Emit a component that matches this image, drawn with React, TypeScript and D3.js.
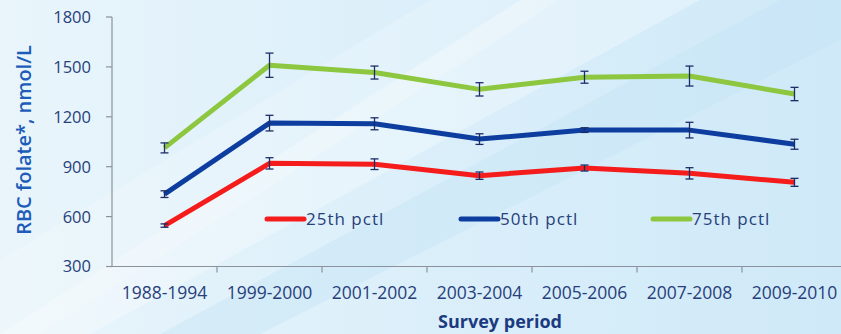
import React from "react";
import * as d3 from "d3";

const periods = ["1988-1994", "1999-2000", "2001-2002", "2003-2004", "2005-2006", "2007-2008", "2009-2010"];
const p25 = [546, 920, 915, 846, 892, 860, 806];
const p25Err = [10, 34, 32, 22, 18, 34, 24];
const p50 = [735, 1162, 1158, 1066, 1120, 1120, 1035];
const p50Err = [20, 47, 36, 32, 14, 47, 30];
const p75 = [1013, 1510, 1466, 1365, 1438, 1445, 1337];
const p75Err = [30, 73, 39, 40, 36, 60, 40];
const yTicks = [300, 600, 900, 1200, 1500, 1800];

const seriesNames = ["25th pctl", "50th pctl", "75th pctl"];
const seriesColors = ["#f51c1c", "#0d3d9f", "#8dc63f"];

const W = 841;
const H = 334;
const left = 112;
const bandW = 105;
const top = 17;
const bottom = 266.5;

export default function App() {
  const x = d3
    .scaleBand<string>()
    .domain(periods)
    .range([left, left + bandW * periods.length]);
  const y = d3.scaleLinear().domain([300, 1800]).range([bottom, top]);
  const line = d3
    .line<number>()
    .x((_, i) => (x(periods[i]) as number) + x.bandwidth() / 2)
    .y((v) => y(v));

  const series = [
    { vals: p25, err: p25Err },
    { vals: p50, err: p50Err },
    { vals: p75, err: p75Err },
  ];
  const legendX = [267, 461, 653];
  const legendY = 219;
  const font = "'Open Sans', sans-serif";
  const textColor = "#27407a";

  return (
    <svg width={W} height={H} style={{ position: "absolute", left: 0, top: 0 }}>
      <defs>
        <linearGradient id="bg" x1="0" y1="0" x2="1" y2="0">
          <stop offset="0" stopColor="#e9f5fb" />
          <stop offset="0.5" stopColor="#dbeffa" />
          <stop offset="1" stopColor="#cfe9f8" />
        </linearGradient>
      </defs>
      <rect width={W} height={H} fill="url(#bg)" />
      <polygon points="0,334 90,334 700,0 520,0" fill="#ffffff" opacity={0.3} />
      <polygon points="0,260 0,334 40,334 560,0 430,0" fill="#ffffff" opacity={0.2} />
      <polygon points="160,334 260,334 841,40 841,0 780,0" fill="#c3e4f6" opacity={0.4} />

      {/* axes */}
      <g stroke="#8c929c" strokeWidth={1.2}>
        <line x1={left} x2={left} y1={top} y2={bottom} />
        <line x1={left} x2={W} y1={bottom} y2={bottom} />
        {yTicks.map((t) => (
          <line key={t} x1={left - 6} x2={left} y1={y(t)} y2={y(t)} />
        ))}
        {periods.map((p, i) =>
          i === 0 ? null : (
            <line key={p} x1={x(p)} x2={x(p)} y1={bottom} y2={bottom + 6} />
          )
        )}
      </g>
      {yTicks.map((t) => (
        <text
          key={t}
          x={91}
          y={y(t)}
          dy="0.36em"
          textAnchor="end"
          fontFamily={font}
          fontSize={16.5}
          fill={textColor}
        >
          {t}
        </text>
      ))}
      {periods.map((p) => (
        <text
          key={p}
          x={(x(p) as number) + x.bandwidth() / 2}
          y={299}
          textAnchor="middle"
          fontFamily={font}
          fontSize={17.5}
          fill={textColor}
        >
          {p}
        </text>
      ))}
      <text
        x={500}
        y={328}
        textAnchor="middle"
        fontFamily={font}
        fontSize={18}
        fontWeight={700}
        fill="#1b3a80"
      >
        Survey period
      </text>
      <text
        transform={`translate(31,140) rotate(-90)`}
        textAnchor="middle"
        fontFamily={font}
        fontSize={20}
        fontWeight={600}
        fill="#1d5cb8"
      >
        RBC folate*, nmol/L
      </text>

      {/* legend */}
      {seriesNames.map((n, i) => (
        <g key={n}>
          <line
            x1={legendX[i]}
            x2={legendX[i] + 37}
            y1={legendY}
            y2={legendY}
            stroke={seriesColors[i]}
            strokeWidth={5}
            strokeLinecap="round"
          />
          <text
            x={legendX[i] + 39}
            y={legendY}
            dy="0.36em"
            fontFamily={font}
            fontSize={17}
            letterSpacing={1}
            fill={textColor}
          >
            {n}
          </text>
        </g>
      ))}

      {/* series lines */}
      {series.map((s, i) => (
        <path
          key={i}
          d={line(s.vals) as string}
          fill="none"
          stroke={seriesColors[i]}
          strokeWidth={5}
          strokeLinejoin="round"
        />
      ))}

      {/* error bars */}
      <g stroke="#1c2d66" strokeWidth={1.3}>
        {series.map((s, si) =>
          s.vals.map((v, i) => {
            const cx = (x(periods[i]) as number) + x.bandwidth() / 2;
            const y1 = y(v + s.err[i]);
            const y2 = y(v - s.err[i]);
            return (
              <g key={`${si}-${i}`}>
                <line x1={cx} x2={cx} y1={y1} y2={y2} />
                <line x1={cx - 4} x2={cx + 4} y1={y1} y2={y1} />
                <line x1={cx - 4} x2={cx + 4} y1={y2} y2={y2} />
              </g>
            );
          })
        )}
      </g>
    </svg>
  );
}
